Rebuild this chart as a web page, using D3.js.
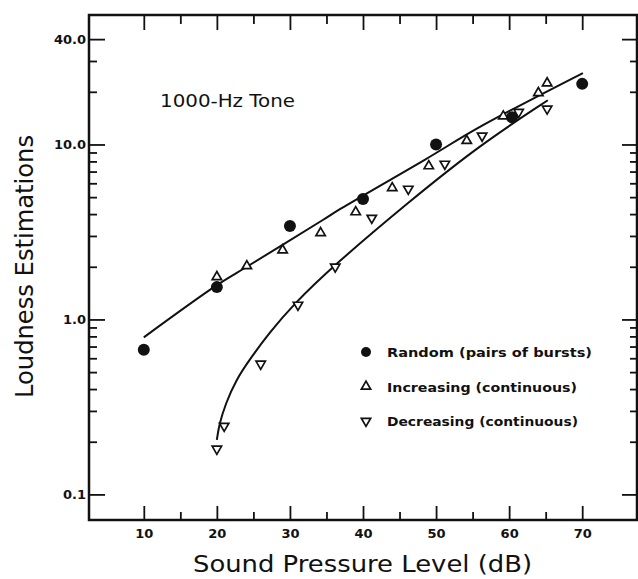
<!DOCTYPE html>
<html>
<head>
<meta charset="utf-8">
<script src="https://cdn.jsdelivr.net/npm/d3@7"></script>
<style>
  body { margin: 0; background: #fff; }
  svg { display: block; }
</style>
</head>
<body>
<div id="chart"></div>
<script>
// Loudness estimations of a 1000-Hz tone

// Random (pairs of bursts)
const randomSpl = [10, 20, 30, 40, 50, 60.4, 70];
const randomLoud = [0.67, 1.53, 3.42, 4.88, 10.0, 14.3, 22.2];

// Increasing (continuous)
const increasingSpl = [20, 24.1, 29, 34.2, 39, 44, 49, 54.2, 59.2, 64, 65.2];
const increasingLoud = [1.75, 2.02, 2.49, 3.12, 4.11, 5.64, 7.53, 10.5, 14.5, 19.7, 22.4];

// Decreasing (continuous)
const decreasingSpl = [20, 21, 26, 31.1, 36.2, 41.2, 46.2, 51.2, 56.3, 61.3, 65.2];
const decreasingLoud = [0.182, 0.246, 0.557, 1.21, 2.0, 3.8, 5.57, 7.74, 11.2, 15.3, 16.0];

// fitted curves
const randomFitSpl = [10, 20, 24.1, 34.5, 36.9, 48.5, 56, 70.1];
const randomFitLoud = [0.79, 1.57, 2.0, 3.7, 4.28, 8.2, 12.6, 25.6];
const decreasingFitSpl = [20, 20.3, 21.2, 22.6, 24.6, 27.2, 30.5, 35.9, 46.4, 56, 65.3];
const decreasingFitLoud = [0.205, 0.25, 0.33, 0.45, 0.6, 0.84, 1.22, 2.02, 4.75, 9.94, 17.9];

// ticks
const xMajor = [10, 20, 30, 40, 50, 60, 70];
const xMinor = [15, 25, 35, 45, 55, 65];
const yMajor = [0.1, 1, 10, 40];
const yMinor = [0.2, 0.3, 0.4, 0.5, 0.6, 0.7, 0.8, 0.9, 2, 3, 4, 5, 6, 7, 8, 9, 20, 30];

const legendLabels = ["Random (pairs of bursts)", "Increasing (continuous)", "Decreasing (continuous)"];

// Set up the chart dimensions
const W = 638, H = 579;
const margin = { top: 15, right: 1, bottom: 59, left: 89 };
const width = W - margin.left - margin.right;
const height = H - margin.top - margin.bottom;
const ink = "#111";

const svg = d3.select("#chart")
    .append("svg")
    .attr("width", W)
    .attr("height", H);

const g = svg.append("g")
    .attr("transform", "translate(" + margin.left + "," + margin.top + ")");

const x = d3.scaleLinear().domain([2.5, 77.5]).range([0, width]);
const y = d3.scaleLog().domain([0.0714, 54.95]).range([height, 0]);

// axes, all ticks pointing inward
function styleAxis(sel) {
    sel.select(".domain").remove();
    sel.selectAll(".tick line").attr("stroke", ink).attr("stroke-width", 1.8);
    sel.selectAll(".tick text")
        .attr("fill", ink)
        .style("font-family", "'DejaVu Sans', sans-serif")
        .style("font-weight", "bold")
        .style("font-size", "13px");
}

g.append("g").attr("transform", "translate(0," + height + ")")
    .call(d3.axisBottom(x).tickValues(xMajor).tickSize(-14).tickPadding(9).tickFormat(d3.format("d")))
    .call(styleAxis);
g.append("g").attr("transform", "translate(0," + height + ")")
    .call(d3.axisBottom(x).tickValues(xMinor).tickSize(-8).tickFormat(""))
    .call(styleAxis);
g.append("g")
    .call(d3.axisTop(x).tickValues(xMajor).tickSize(-15).tickFormat(""))
    .call(styleAxis);
g.append("g")
    .call(d3.axisTop(x).tickValues(xMinor).tickSize(-9).tickFormat(""))
    .call(styleAxis);

g.append("g")
    .call(d3.axisLeft(y).tickValues(yMajor).tickSize(-16).tickPadding(3).tickFormat(d3.format(".1f")))
    .call(styleAxis);
g.append("g")
    .call(d3.axisLeft(y).tickValues(yMinor).tickSize(-8).tickFormat(""))
    .call(styleAxis);
g.append("g").attr("transform", "translate(" + width + ",0)")
    .call(d3.axisRight(y).tickValues(yMajor).tickSize(-15).tickFormat(""))
    .call(styleAxis);
g.append("g").attr("transform", "translate(" + width + ",0)")
    .call(d3.axisRight(y).tickValues(yMinor).tickSize(-7).tickFormat(""))
    .call(styleAxis);

// frame
g.append("rect")
    .attr("width", width)
    .attr("height", height)
    .attr("fill", "none")
    .attr("stroke", ink)
    .attr("stroke-width", 2.5);

// fitted curves
const line = d3.line()
    .x(d => x(d[0]))
    .y(d => y(d[1]))
    .curve(d3.curveCatmullRom.alpha(0.5));

g.append("path")
    .datum(d3.zip(randomFitSpl, randomFitLoud))
    .attr("d", line)
    .attr("fill", "none")
    .attr("stroke", ink)
    .attr("stroke-width", 2);

g.append("path")
    .datum(d3.zip(decreasingFitSpl, decreasingFitLoud))
    .attr("d", line.curve(d3.curveBasis))
    .attr("fill", "none")
    .attr("stroke", ink)
    .attr("stroke-width", 2);

// points
const tri = d3.symbol().type(d3.symbolTriangle).size(38);

g.selectAll(".inc")
    .data(d3.zip(increasingSpl, increasingLoud))
    .enter().append("path")
    .attr("d", tri)
    .attr("transform", d => "translate(" + x(d[0]) + "," + y(d[1]) + ")")
    .attr("fill", "#fff")
    .attr("stroke", ink)
    .attr("stroke-width", 1.7);

g.selectAll(".dec")
    .data(d3.zip(decreasingSpl, decreasingLoud))
    .enter().append("path")
    .attr("d", tri)
    .attr("transform", d => "translate(" + x(d[0]) + "," + y(d[1]) + ") rotate(180)")
    .attr("fill", "#fff")
    .attr("stroke", ink)
    .attr("stroke-width", 1.7);

g.selectAll(".rnd")
    .data(d3.zip(randomSpl, randomLoud))
    .enter().append("circle")
    .attr("cx", d => x(d[0]))
    .attr("cy", d => y(d[1]))
    .attr("r", 6)
    .attr("fill", ink);

// annotation
svg.append("text")
    .attr("x", 160)
    .attr("y", 107)
    .attr("textLength", 135)
    .attr("lengthAdjust", "spacingAndGlyphs")
    .attr("fill", ink)
    .style("font-family", "'DejaVu Sans', sans-serif")
    .style("font-size", "18px")
    .text("1000-Hz Tone");

// legend
const legend = svg.append("g").attr("transform", "translate(366,352)");
const rows = legend.selectAll("g")
    .data(legendLabels)
    .enter().append("g")
    .attr("transform", (d, i) => "translate(0," + i * 34.5 + ")");

rows.filter((d, i) => i === 0).append("circle").attr("r", 5).attr("fill", ink);
rows.filter((d, i) => i > 0).append("path")
    .attr("d", tri)
    .attr("transform", (d, i) => i === 1 ? "rotate(180)" : null)
    .attr("fill", "#fff")
    .attr("stroke", ink)
    .attr("stroke-width", 1.7);

rows.append("text")
    .attr("x", 21)
    .attr("y", 5)
    .attr("textLength", (d, i) => [205, 190, 191][i])
    .attr("lengthAdjust", "spacingAndGlyphs")
    .attr("fill", ink)
    .style("font-family", "'DejaVu Sans', sans-serif")
    .style("font-weight", "bold")
    .style("font-size", "13px")
    .text(d => d);

// axis titles
svg.append("text")
    .attr("x", 193)
    .attr("y", 572)
    .attr("textLength", 339)
    .attr("lengthAdjust", "spacingAndGlyphs")
    .attr("fill", ink)
    .style("font-family", "'DejaVu Sans', sans-serif")
    .style("font-size", "23px")
    .text("Sound Pressure Level (dB)");

svg.append("text")
    .attr("transform", "translate(33,398) rotate(-90)")
    .attr("textLength", 263)
    .attr("lengthAdjust", "spacingAndGlyphs")
    .attr("fill", ink)
    .style("font-family", "'DejaVu Sans', sans-serif")
    .style("font-size", "24px")
    .text("Loudness Estimations");
</script>
</body>
</html>
